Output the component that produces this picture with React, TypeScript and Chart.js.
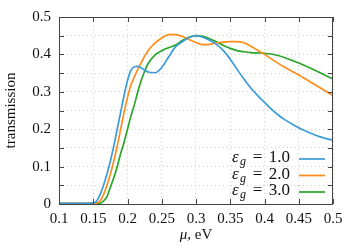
import React, { useEffect, useRef } from "react";
import { Chart, registerables } from "chart.js";

Chart.register(...registerables);

const mu = [0.1, 0.12, 0.14, 0.15, 0.155, 0.16, 0.165, 0.17, 0.175, 0.18, 0.185, 0.19, 0.195, 0.2, 0.205, 0.21, 0.215, 0.22, 0.225, 0.23, 0.24, 0.25, 0.26, 0.27, 0.28, 0.29, 0.3, 0.31, 0.32, 0.33, 0.34, 0.35, 0.36, 0.37, 0.38, 0.39, 0.4, 0.41, 0.42, 0.43, 0.44, 0.45, 0.46, 0.47, 0.48, 0.49, 0.5];

const eps1 = [0.002, 0.002, 0.002, 0.003, 0.008, 0.025, 0.05, 0.08, 0.115, 0.155, 0.2, 0.245, 0.29, 0.33, 0.357, 0.367, 0.368, 0.364, 0.358, 0.353, 0.351, 0.365, 0.393, 0.42, 0.434, 0.445, 0.45, 0.446, 0.438, 0.427, 0.41, 0.387, 0.36, 0.334, 0.31, 0.29, 0.272, 0.254, 0.238, 0.225, 0.214, 0.204, 0.195, 0.187, 0.18, 0.175, 0.171];

const eps2 = [0.002, 0.002, 0.002, 0.002, 0.003, 0.008, 0.025, 0.05, 0.08, 0.115, 0.155, 0.2, 0.245, 0.285, 0.318, 0.34, 0.36, 0.378, 0.395, 0.41, 0.43, 0.444, 0.453, 0.453, 0.448, 0.44, 0.432, 0.426, 0.427, 0.431, 0.433, 0.434, 0.434, 0.431, 0.422, 0.411, 0.4, 0.388, 0.376, 0.365, 0.355, 0.345, 0.334, 0.323, 0.312, 0.301, 0.29];

const eps3 = [0.001, 0.001, 0.001, 0.001, 0.001, 0.002, 0.008, 0.02, 0.045, 0.07, 0.1, 0.135, 0.165, 0.2, 0.235, 0.265, 0.3, 0.33, 0.355, 0.375, 0.398, 0.41, 0.418, 0.425, 0.437, 0.446, 0.45, 0.448, 0.442, 0.434, 0.424, 0.416, 0.41, 0.407, 0.405, 0.404, 0.403, 0.401, 0.397, 0.391, 0.384, 0.377, 0.369, 0.361, 0.352, 0.343, 0.334];

const legendValues = ["1.0", "2.0", "3.0"];
const seriesColors = ["#3b9bd6", "#ff8c1a", "#2aa52a"];
const yTitle = "transmission";
const xTitleSym = "μ";
const xTitleRest = ", eV";

const FONT = "'Liberation Serif', 'Times New Roman', serif";

export default function App() {
  const ref = useRef<HTMLCanvasElement>(null);
  useEffect(() => {
    document.body.style.margin = "0";
    const series = [eps1, eps2, eps3];
    const framePlugin = {
      id: "frame",
      afterDraw(chart: any) {
        const ctx = chart.ctx;
        const a = chart.chartArea;
        const xs = chart.scales.x;
        const ys = chart.scales.y;
        ctx.save();
        ctx.strokeStyle = "#444";
        ctx.lineWidth = 1;
        ctx.strokeRect(a.left + 0.5, a.top + 0.5, a.right - a.left - 1, a.bottom - a.top);
        const tl = 5;
        ctx.beginPath();
        xs.ticks.forEach((t: any) => {
          const px = Math.round(xs.getPixelForValue(t.value)) + 0.5;
          ctx.moveTo(px, a.bottom);
          ctx.lineTo(px, a.bottom - tl);
          ctx.moveTo(px, a.top);
          ctx.lineTo(px, a.top + tl);
        });
        ys.ticks.forEach((t: any) => {
          const py = Math.round(ys.getPixelForValue(t.value)) + 0.5;
          ctx.moveTo(a.left, py);
          ctx.lineTo(a.left + tl, py);
          ctx.moveTo(a.right, py);
          ctx.lineTo(a.right - tl, py);
        });
        ctx.stroke();

        // legend
        ctx.fillStyle = "#111";
        ctx.textBaseline = "middle";
        const rowY = [158, 174.5, 191];
        legendValues.forEach((v, i) => {
          const y = rowY[i];
          ctx.textAlign = "left";
          ctx.font = `italic 17px ${FONT}`;
          ctx.fillText("ε", 232, y);
          ctx.font = `italic 12px ${FONT}`;
          ctx.fillText("g", 240, y + 4);
          ctx.font = `17px ${FONT}`;
          ctx.textAlign = "center";
          ctx.fillText("=", 257.5, y);
          ctx.textAlign = "right";
          ctx.fillText(v, 290, y);
          ctx.strokeStyle = seriesColors[i];
          ctx.lineWidth = 1.7;
          ctx.beginPath();
          ctx.moveTo(299, y + 1);
          ctx.lineTo(325, y + 1);
          ctx.stroke();
        });

        // x title
        ctx.fillStyle = "#111";
        ctx.font = `italic 15px ${FONT}`;
        const ws = ctx.measureText(xTitleSym).width;
        ctx.font = `15px ${FONT}`;
        const wr = ctx.measureText(xTitleRest).width;
        const cx = (a.left + a.right) / 2;
        const x0 = cx - (ws + wr) / 2;
        ctx.textAlign = "left";
        ctx.textBaseline = "middle";
        ctx.font = `italic 15px ${FONT}`;
        ctx.fillText(xTitleSym, x0, 235);
        ctx.font = `15px ${FONT}`;
        ctx.fillText(xTitleRest, x0 + ws, 235);

        // y title
        ctx.translate(11, (a.top + a.bottom) / 2);
        ctx.rotate(-Math.PI / 2);
        ctx.textAlign = "center";
        ctx.textBaseline = "middle";
        ctx.font = `15px ${FONT}`;
        ctx.fillText(yTitle, 0, 0);
        ctx.restore();
      },
    };

    const chart = new Chart(ref.current!, {
      type: "line",
      data: {
        datasets: series.map((s, i) => ({
          label: "eps" + legendValues[i],
          data: mu.map((m, j) => ({ x: m, y: s[j] })),
          borderColor: seriesColors[i],
          borderWidth: 1.7,
          pointRadius: 0,
          cubicInterpolationMode: "monotone" as const,
          fill: false,
        })),
      },
      options: {
        animation: false,
        responsive: false,
        maintainAspectRatio: false,
        layout: { padding: { top: 10, right: 16, left: 0, bottom: 0 } },
        plugins: { legend: { display: false }, tooltip: { enabled: false } },
        scales: {
          x: {
            type: "linear",
            min: 0.1,
            max: 0.5,
            ticks: {
              stepSize: 0.05,
              padding: 6,
              color: "#111",
              font: { family: FONT, size: 15 },
              maxRotation: 0,
              autoSkip: false,
              callback: (v: any) => String(parseFloat(Number(v).toFixed(2))),
            },
            grid: { color: "#cfcfcf", lineWidth: 1, drawTicks: false },
            border: { display: false, dash: [1, 3] },
            afterFit: (s: any) => {
              s.height = 42;
            },
          },
          y: {
            type: "linear",
            min: 0,
            max: 0.5,
            ticks: {
              stepSize: 0.05,
              padding: 8,
              color: "#111",
              font: { family: FONT, size: 15 },
              autoSkip: false,
              callback: (v: any) => {
                const n = Number(v) * 10;
                if (Math.abs(n - Math.round(n)) > 1e-6) return "";
                return Math.round(n) === 0 ? "0" : (Math.round(n) / 10).toFixed(1);
              },
            },
            grid: { color: "#cfcfcf", lineWidth: 1, drawTicks: false },
            border: { display: false, dash: [1, 3] },
            afterFit: (s: any) => {
              s.width = 59;
            },
          },
        },
      },
      plugins: [framePlugin],
    });
    return () => chart.destroy();
  }, []);
  return (
    <div style={{ width: 349, height: 246 }}>
      <canvas ref={ref} width={349} height={246} style={{ width: 349, height: 246 }} />
    </div>
  );
}
